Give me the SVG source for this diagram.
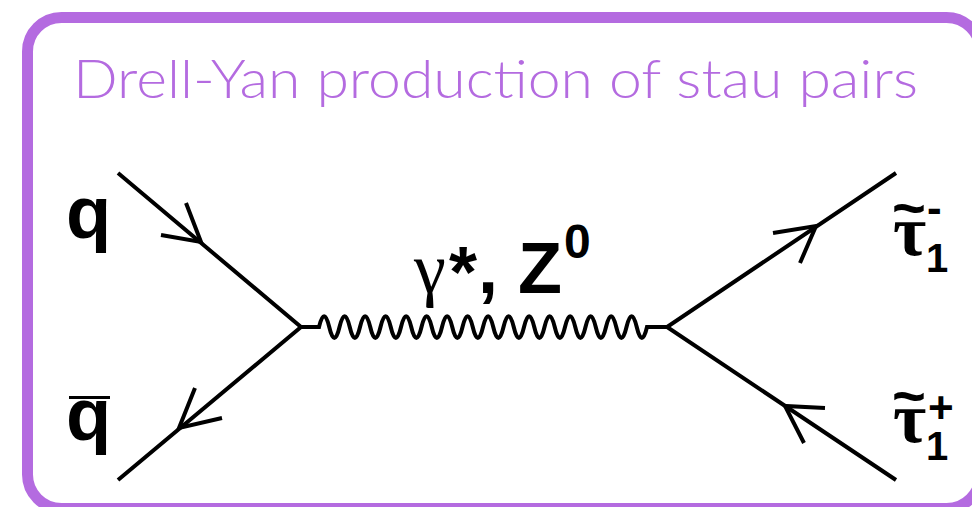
<svg xmlns="http://www.w3.org/2000/svg" width="972" height="507" viewBox="0 0 972 507">
<style>
.frame{fill:none;stroke:#b46be0;stroke-width:11}
.title{font-family:"Lato","Open Sans",sans-serif;font-weight:300;font-size:54px;fill:#b46be0}
.ln{fill:none;stroke:#000;stroke-width:4;stroke-linecap:butt;stroke-linejoin:miter}
.lb{font-family:"Liberation Sans",Arial,sans-serif;font-weight:bold;fill:#000}
.gr{font-family:"Liberation Serif","Times New Roman",serif;fill:#000}
</style>
<rect width="972" height="507" fill="#fff"/>
<rect class="frame" x="27.5" y="17.5" width="953" height="491" rx="34" ry="34"/>
<text class="title" x="73" y="98" textLength="845" lengthAdjust="spacingAndGlyphs">Drell-Yan production of stau pairs</text>
<g id="connectors">
<path class="ln" d="M118,173 L301,327 L118,480"/>
<path class="ln" d="M896,173 L667,327 L896,480"/>
<path class="ln" d="M301,327 H319 c3.3,-14.5 6.95,-14.5 10.25,0 c3.3,14.5 6.95,14.5 10.25,0 c3.3,-14.5 6.95,-14.5 10.25,0 c3.3,14.5 6.95,14.5 10.25,0 c3.3,-14.5 6.95,-14.5 10.25,0 c3.3,14.5 6.95,14.5 10.25,0 c3.3,-14.5 6.95,-14.5 10.25,0 c3.3,14.5 6.95,14.5 10.25,0 c3.3,-14.5 6.95,-14.5 10.25,0 c3.3,14.5 6.95,14.5 10.25,0 c3.3,-14.5 6.95,-14.5 10.25,0 c3.3,14.5 6.95,14.5 10.25,0 c3.3,-14.5 6.95,-14.5 10.25,0 c3.3,14.5 6.95,14.5 10.25,0 c3.3,-14.5 6.95,-14.5 10.25,0 c3.3,14.5 6.95,14.5 10.25,0 c3.3,-14.5 6.95,-14.5 10.25,0 c3.3,14.5 6.95,14.5 10.25,0 c3.3,-14.5 6.95,-14.5 10.25,0 c3.3,14.5 6.95,14.5 10.25,0 c3.3,-14.5 6.95,-14.5 10.25,0 c3.3,14.5 6.95,14.5 10.25,0 c3.3,-14.5 6.95,-14.5 10.25,0 c3.3,14.5 6.95,14.5 10.25,0 c3.3,-14.5 6.95,-14.5 10.25,0 c3.3,14.5 6.95,14.5 10.25,0 c3.3,-14.5 6.95,-14.5 10.25,0 c3.3,14.5 6.95,14.5 10.25,0 c3.3,-14.5 6.95,-14.5 10.25,0 c3.3,14.5 6.95,14.5 10.25,0 c3.3,-14.5 6.95,-14.5 10.25,0 c3.3,14.5 6.95,14.5 10.25,0 H667"/>
<polyline class="ln" points="186,203 201,242 161,235"/>
<polyline class="ln" points="195,388 179,428 222,418"/>
<polyline class="ln" points="773,233 816,226 800,263"/>
<polyline class="ln" points="825,408 785,406 804,443"/>
</g>
<g id="q">
<text class="lb" x="66" y="238" font-size="74">q</text>
</g>
<g id="qbar">
<text class="lb" x="66" y="440" font-size="74">q</text>
<line x1="69" y1="397.5" x2="110" y2="397.5" stroke="#000" stroke-width="3"/>
</g>
<g id="boson">
<text class="lb" font-size="72"><tspan class="gr" font-weight="normal" x="414" y="293">γ</tspan><tspan x="449" y="297">*</tspan><tspan x="478" y="293">,</tspan><tspan x="518" y="293">Z</tspan><tspan x="564" y="258" font-size="48">0</tspan></text>
</g>
<g id="stau-minus">
<text class="lb" font-size="58"><tspan x="892" y="228">~</tspan><tspan class="gr" x="893" y="255" font-size="72">τ</tspan><tspan x="927" y="223" font-size="44">-</tspan><tspan x="926" y="272" font-size="40">1</tspan></text>
</g>
<g id="stau-plus">
<text class="lb" font-size="58"><tspan x="892" y="416">~</tspan><tspan class="gr" x="893" y="442" font-size="72">τ</tspan><tspan x="928" y="423" font-size="44">+</tspan><tspan x="926" y="460" font-size="40">1</tspan></text>
</g>
</svg>
